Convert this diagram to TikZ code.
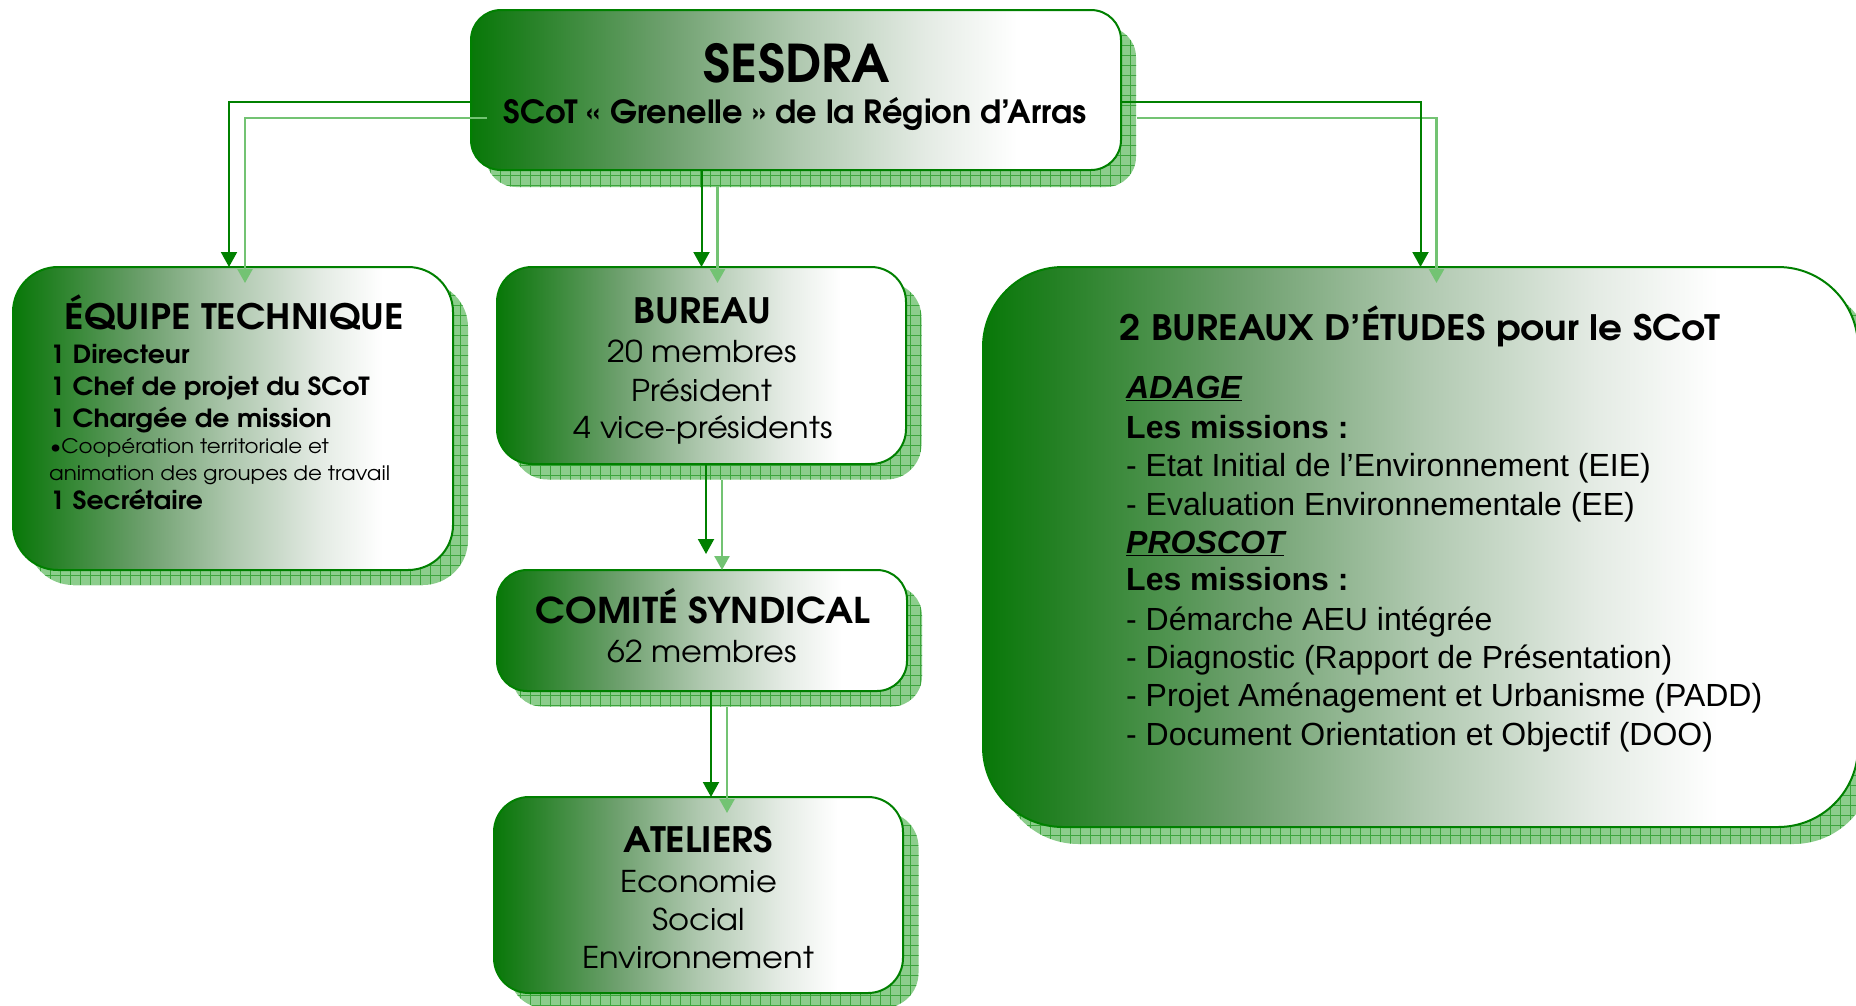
\documentclass[tikz,border=0pt]{standalone}
\usepackage{fontspec}
\setmainfont{texgyreadventor}[Extension=.otf, UprightFont=*-regular, BoldFont=*-bold, ItalicFont=*-italic, BoldItalicFont=*-bolditalic, FakeStretch=1.07]
\newfontfamily\cgn{texgyreadventor}[Extension=.otf, UprightFont=*-regular, BoldFont=*-bold, ItalicFont=*-italic, BoldItalicFont=*-bolditalic]
\newfontfamily\arialf{Liberation Sans}
\usetikzlibrary{arrows.meta,patterns.meta}
\definecolor{bgreen}{RGB}{0,128,0}
\definecolor{gA}{RGB}{8,120,8}
\definecolor{gB}{RGB}{35,128,35}
\definecolor{gC}{RGB}{110,160,110}
\definecolor{gD}{RGB}{175,200,175}
\definecolor{gE}{RGB}{228,235,228}
\definecolor{shfill}{RGB}{140,205,140}
\definecolor{shline}{RGB}{60,165,60}
\definecolor{shconn}{RGB}{115,195,115}
\pgfdeclarehorizontalshading{boxshade}{100bp}{color(0bp)=(gA); color(25bp)=(gA); color(29bp)=(gB); color(40bp)=(gC); color(50bp)=(gD); color(60bp)=(gE); color(67bp)=(white); color(100bp)=(white)}
\newcommand\fsz[1]{\fontsize{#1}{#1}\selectfont}
\tikzset{
  ubox/.style={rectangle, draw=bgreen, line width=2pt, shade, shading=boxshade, inner sep=0pt, outer sep=0pt, rounded corners=#1},
  ushadow/.style={rectangle, inner sep=0pt, outer sep=0pt, rounded corners=#1, fill=shfill,
     postaction={pattern={Hatch[distance=10pt, line width=0.7pt]}, pattern color=shline}},
  conn/.style={draw=bgreen, line width=2pt, -{Triangle[width=16pt,length=15pt]}},
  sconn/.style={draw=shconn, line width=2.5pt, -{Triangle[width=15pt,length=14pt]}, transform canvas={shift={(16pt,-16pt)}}},
  txc/.style={inner sep=0pt, anchor=base, text=black},
  txl/.style={inner sep=0pt, anchor=base west, text=black},
}
\begin{document}
\begin{tikzpicture}[x=1pt,y=-1pt]
\useasboundingbox (0,0) rectangle (1856,1005);
% shadows
\node[ushadow=30pt, minimum width=650pt, minimum height=160pt] (sesdraS) at (811,107) {};
\node[ushadow=45pt, minimum width=440pt, minimum height=303pt] (equipeS) at (248,433.5) {};
\node[ushadow=35pt, minimum width=409pt, minimum height=197pt] (bureauS) at (717,381) {};
\node[ushadow=30pt, minimum width=410pt, minimum height=121pt] (comiteS) at (717,646) {};
\node[ushadow=35pt, minimum width=409pt, minimum height=196pt] (ateliersS) at (714,910) {};
\node[ushadow=80pt, minimum width=875pt, minimum height=560pt] (betS) at (1436,564) {};
% boxes
\node[ubox=30pt, minimum width=650pt, minimum height=160pt] (sesdra) at (796,90) {};
\node[ubox=45pt, minimum width=440pt, minimum height=303pt] (equipe) at (233,418.5) {};
\node[ubox=35pt, minimum width=409pt, minimum height=197pt] (bureau) at (701.5,365.5) {};
\node[ubox=30pt, minimum width=410pt, minimum height=121pt] (comite) at (702,630.5) {};
\node[ubox=35pt, minimum width=409pt, minimum height=196pt] (ateliers) at (698.5,895) {};
\node[ubox=80pt, minimum width=875pt, minimum height=560pt] (bet) at (1420.5,547) {};
% connector shadows
\draw[sconn] ([yshift=-12pt]sesdra.west) -| ([xshift=-4pt]equipe.north);
\draw[sconn] (sesdra.south -| bureau.north) -- (bureau.north);
\draw[sconn] ([yshift=-12pt]sesdra.east) -| (bet.north);
\draw[sconn] ([xshift=4.5pt]bureau.south) -- ([xshift=4pt,yshift=16pt]comite.north);
\draw[sconn] ([xshift=9pt]comite.south) -- ([xshift=12.5pt]ateliers.north);
% connectors
\draw[conn] ([yshift=-12pt]sesdra.west) -| ([xshift=-4pt]equipe.north);
\draw[conn] (sesdra.south -| bureau.north) -- (bureau.north);
\draw[conn] ([yshift=-12pt]sesdra.east) -| (bet.north);
\draw[conn] ([xshift=4.5pt]bureau.south) -- ([xshift=4pt,yshift=16pt]comite.north);
\draw[conn] ([xshift=9pt]comite.south) -- ([xshift=12.5pt]ateliers.north);
% texts
\node[txc, font=\cgn\fsz{52}\bfseries] (s1) at (797,82) {SESDRA};
\node[txc, font=\cgn\fsz{32}\bfseries] (s2) at (795,123) {SCoT « Grenelle » de la Région d’Arras};

\node[txc, font=\fsz{35}\bfseries] (e0) at (234.5,329) {ÉQUIPE TECHNIQUE};
\node[txl, font=\fsz{25}\bfseries] (e1) at (50,363) {1 Directeur};
\node[txl, font=\fsz{25}\bfseries] (e2) at (50,395) {1 Chef de projet du SCoT};
\node[txl, font=\fsz{25}\bfseries] (e3) at (50,427) {1 Chargée de mission};
\node[txl, font=\fsz{20}] (e4) at (50,453) {\textbullet Coopération territoriale et};
\node[txl, font=\fsz{20}] (e5) at (49,480) {animation des groupes de travail};
\node[txl, font=\fsz{25}\bfseries] (e6) at (50,509) {1 Secrétaire};

\node[txc, font=\fsz{35}\bfseries] (b0) at (702.5,323) {BUREAU};
\node[txc, font=\fsz{30}] (b1) at (702,362) {20 membres};
\node[txc, font=\fsz{30}] (b2) at (702,401) {Président};
\node[txc, font=\fsz{30}] (b3) at (703,438) {4 vice-présidents};

\node[txc, font=\fsz{35.5}\bfseries] (c0) at (703,623) {COMITÉ SYNDICAL};
\node[txc, font=\fsz{30}] (c1) at (702,662) {62 membres};

\node[txc, font=\fsz{35}\bfseries] (a0) at (698.5,852) {ATELIERS};
\node[txc, font=\fsz{30}] (a1) at (698.5,892) {Economie};
\node[txc, font=\fsz{30}] (a2) at (698.5,930) {Social};
\node[txc, font=\fsz{30}] (a3) at (698.5,968) {Environnement};

\node[txc, font=\fsz{35}\bfseries] (r0) at (1420,340) {2 BUREAUX D’ÉTUDES pour le SCoT};
\node[txl, font=\arialf\fsz{32}\bfseries\itshape] (r1) at (1126,398) {\underline{ADAGE}};
\node[txl, font=\arialf\fsz{32}\bfseries] (r2) at (1126,438) {Les missions :};
\node[txl, font=\arialf\fsz{32}] (r3) at (1126,476) {- Etat Initial de l’Environnement (EIE)};
\node[txl, font=\arialf\fsz{32}] (r4) at (1126,515) {- Evaluation Environnementale (EE)};
\node[txl, font=\arialf\fsz{32}\bfseries\itshape] (r5) at (1126,553) {\underline{PROSCOT}};
\node[txl, font=\arialf\fsz{32}\bfseries] (r6) at (1126,590) {Les missions :};
\node[txl, font=\arialf\fsz{32}] (r7) at (1126,630) {- Démarche AEU intégrée};
\node[txl, font=\arialf\fsz{32}] (r8) at (1126,668) {- Diagnostic (Rapport de Présentation)};
\node[txl, font=\arialf\fsz{32}] (r9) at (1126,706) {- Projet Aménagement et Urbanisme (PADD)};
\node[txl, font=\arialf\fsz{32}] (r10) at (1126,745) {- Document Orientation et Objectif (DOO)};
\end{tikzpicture}
\end{document}
